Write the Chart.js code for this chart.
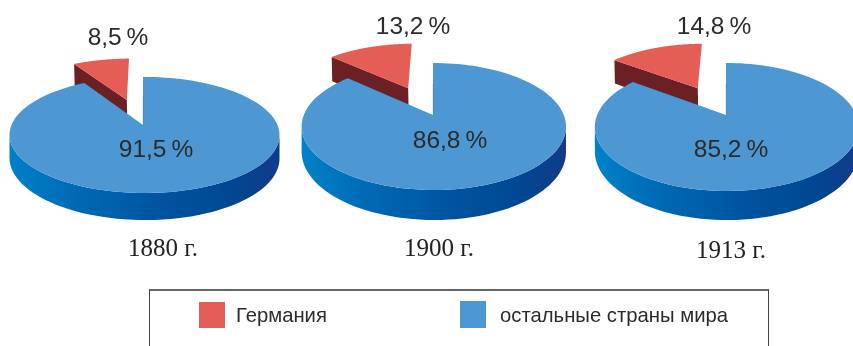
<!DOCTYPE html>
<html><head><meta charset="utf-8">
<style>
html,body{margin:0;padding:0;background:#fff;width:853px;height:346px;overflow:hidden}
canvas{position:absolute;left:0;top:0}
#box{position:absolute;left:149px;top:289px;width:620px;height:80px;border-top:2px solid #666;border-left:1px solid #444;border-right:1px solid #444;box-sizing:border-box}
.sw{position:absolute}
.lg{position:absolute;font:20.3px "Liberation Sans",sans-serif;color:#2b2b2b;white-space:nowrap}
.yr{position:absolute;font:25px "Liberation Serif",serif;color:#222;white-space:nowrap;transform:translateX(-50%)}
</style></head><body>
<div id="box"></div>
<div id="root"></div>
<script src="https://cdn.jsdelivr.net/npm/chart.js@4"></script>
<script>
const categories = ['Германия', 'остальные страны мира'];
const years = ['1880 г.', '1900 г.', '1913 г.'];
const germany = [8.5, 13.2, 14.8];
const others = [91.5, 86.8, 85.2];

const colors = {red:'#e55e55', redSide:'#6a2024', blue:'#4d98d2'};
const views = [
 {ax:143, ay:125, R:133, A:56.3, c:-0.172, d:-0.011, D:22.4, e:0.5, gl:8, gr:281, rl:[118,38], bl:[156,150], yr:[163,248]},
 {ax:433, ay:115, R:130, A:61.4, c:-0.181, d:-0.006, D:24.6, e:0.515, gl:303, gr:568, rl:[413,27], bl:[450,141], yr:[439,248]},
 {ax:726, ay:115, R:129.5, A:61.75, c:-0.1875, d:-0.005, D:23.6, e:0.53, gl:596, gr:860, rl:[714,27], bl:[731,150], yr:[731,250]}
];

function fmt(v){ return v.toFixed(1).replace('.', ',') + '\u2009%'; }

function project(v, u, w){ // u: right, w: toward viewer, unit disc
  const den = 1 + v.c*w + v.d*u;
  return {x: v.ax + v.R*u/den, y: v.ay + v.A*w/den, den};
}
function sector(a0, a1, off){ // angles in chart.js radians
  const pts=[], n=120;
  for(let i=0;i<=n;i++){
    const a=a0+(a1-a0)*i/n;
    pts.push({u:off.u+Math.cos(a), w:off.w+Math.sin(a)});
  }
  return pts;
}
const pie3d = {
  id:'pie3d',
  beforeDatasetDraw(){ return false; },
  afterDatasetsDraw(chart, args, opts){
    const v=opts.view, ctx=chart.ctx, arcs=chart.getDatasetMeta(0).data;
    const depth=p=>v.D/p.den;
    const P=q=>project(v,q.u,q.w);
    const fillPoly=(pts,fill)=>{ctx.beginPath();pts.forEach((p,i)=>i?ctx.lineTo(p.x,p.y):ctx.moveTo(p.x,p.y));ctx.closePath();ctx.fillStyle=fill;ctx.fill();};
    ctx.save();
    // exploded slice
    const r=arcs[0], mid=(r.startAngle+r.endAngle)/2;
    const off={u:v.e*Math.cos(mid), w:v.e*Math.sin(mid)};
    const rArc=sector(r.startAngle,r.endAngle,off).map(P);
    const apex=P(off), c0=rArc[0];
    const low=p=>({x:p.x,y:p.y+depth(p)});
    const lowRed=p=>({x:p.x+0.5,y:p.y+depth(p)*1.2});
    fillPoly([c0,apex,lowRed(apex),lowRed(c0)],colors.redSide);
    fillPoly([apex,...rArc],colors.red);
    // remaining slice
    const b=arcs[1];
    const bArc=sector(b.startAngle,b.endAngle,{u:0,w:0}).map(P);
    let iR=0,iL=0; bArc.forEach((p,i)=>{if(p.x>bArc[iR].x)iR=i;if(p.x<bArc[iL].x)iL=i;});
    const front=bArc.slice(iR,iL+1);
    const g=ctx.createLinearGradient(v.gl,0,v.gr,0);
    g.addColorStop(0,'#0081c9');g.addColorStop(0.25,'#0069b4');g.addColorStop(0.55,'#0054a0');g.addColorStop(0.8,'#004893');g.addColorStop(1,'#123a88');
    fillPoly([...front,...front.slice().reverse().map(low)],g);
    fillPoly([P({u:0,w:0}),...bArc],colors.blue);
    // thin shaded edge along the start of the large slice
    const ap=P({u:0,w:0}), s0=bArc[0];
    ctx.strokeStyle='rgba(50,70,100,0.22)';ctx.lineWidth=1;
    ctx.beginPath();ctx.moveTo(ap.x,ap.y);ctx.lineTo(ap.x+(s0.x-ap.x)*0.6,ap.y+(s0.y-ap.y)*0.6);ctx.stroke();
    // value labels
    ctx.fillStyle='#2b2b2b';ctx.font='24.5px "Liberation Sans", sans-serif';ctx.textAlign='center';ctx.textBaseline='middle';
    const ds=chart.data.datasets[0].data;
    ctx.fillText(fmt(ds[0]),v.rl[0],v.rl[1]);
    ctx.fillText(fmt(ds[1]),v.bl[0],v.bl[1]);
    ctx.restore();
  }
};
const root=document.getElementById('root');
years.forEach((yr,i)=>{
  const cv=document.createElement('canvas');
  cv.width=853;cv.height=346;cv.style.width='853px';cv.style.height='346px';
  root.appendChild(cv);
  new Chart(cv.getContext('2d'),{
    type:'pie',
    plugins:[pie3d],
    data:{labels:categories,datasets:[{data:[germany[i],others[i]],backgroundColor:[colors.red,colors.blue],borderWidth:0}]},
    options:{responsive:false,animation:false,rotation:-germany[i]*3.6,
      plugins:{legend:{display:false},tooltip:{enabled:false},pie3d:{view:views[i]}}}
  });
  const y=document.createElement('div');y.className='yr';y.textContent=yr;
  y.style.left=views[i].yr[0]+'px';y.style.top=(views[i].yr[1]-14)+'px';
  root.appendChild(y);
});
const legendBits=[[199,302,26,26,colors.red,236],[460,301,26,27,colors.blue,500]];
categories.forEach((t,i)=>{
  const b=legendBits[i];
  const s=document.createElement('div');s.className='sw';
  s.style.cssText+=`left:${b[0]}px;top:${b[1]}px;width:${b[2]}px;height:${b[3]}px;background:${b[4]}`;
  root.appendChild(s);
  const l=document.createElement('div');l.className='lg';l.textContent=t;
  l.style.left=b[5]+'px';l.style.top='304px';
  root.appendChild(l);
});
</script>
</body></html>
